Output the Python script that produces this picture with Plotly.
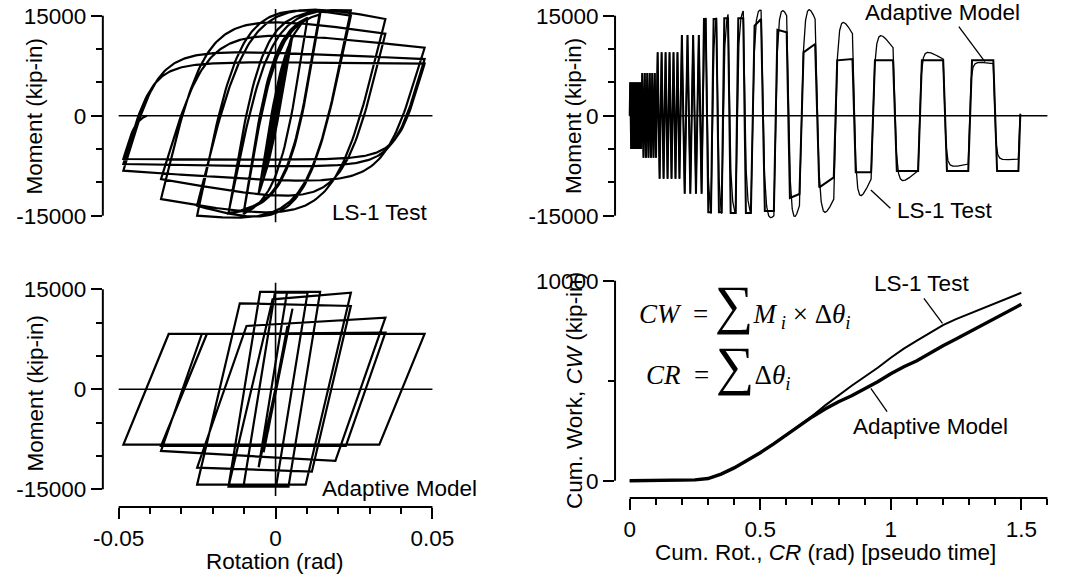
import numpy as np
import plotly.graph_objects as go

W, H = 1066, 581

# ---------------- values ----------------
# loading history: rotation amplitude (rad) of each cycle
amp_pos = [0.0019]*6 + [0.0024]*6 + [0.0038]*6 + [0.0054]*4 + [0.0102]*2 + [0.0142]*2 + [0.0240]*2 + [0.0350]*2 + [0.0475]*3
amp_neg = [0.0019]*6 + [0.0024]*6 + [0.0038]*6 + [0.0054]*4 + [0.0102]*2 + [0.0150]*2 + [0.0250]*2 + [0.0365]*2 + [0.0485]*3
rot_final = -0.041

# LS-1 test: moment at each reversal, peak moment of each half cycle (kip-in), unloading stiffness
test_m_pos = [5000]*6 + [6400]*6 + [9500]*6 + [12100]*4 + [14700, 14700, 15200, 15700, 15800, 15000, 14500, 12300, 10200, 8500, 7800]
test_m_neg = [-5000]*6 + [-6300]*6 + [-9450]*6 + [-11700]*4 + [-14700, -14700, -14700, -14600, -15000, -13500, -12500, -9500, -8250, -7250, -6500]
test_pk_pos = [5000]*6 + [6400]*6 + [9500]*6 + [12100]*4 + [14700, 14700, 15250, 15750, 16250, 16000, 15900, 14000, 12000, 9500, 8000]
test_pk_neg = [-5000]*6 + [-6300]*6 + [-9450]*6 + [-11700]*4 + [-14700, -14700, -14750, -14600, -15500, -15250, -14500, -12000, -9750, -7600, -6600]
test_k = [3.3e6]*12 + [3.1e6]*6 + [2.8e6]*4 + [3.0e6]*2 + [2.8e6]*2 + [2.4e6]*2 + [2.0e6]*2 + [1.6e6]*3
test_m_final = 0

# Adaptive model: plateau start / end moments at each half cycle, elastic stiffness
model_m_pos = [5000]*6 + [6400]*6 + [9500]*6 + [12100]*4 + [14500, 14500, 14600, 14600, 14500, 12500, 10750, 8500, 8300, 8300, 8300]
model_m_neg = [-5000]*6 + [-6300]*6 + [-9450]*6 + [-11700]*4 + [-14500, -14500, -14600, -14600, -14300, -11750, -9250, -8500, -8300, -8300, -8300]
model_y_pos = [None]*22 + [14500, 14500, 14600, 14600, 13500, 12900, 9500, 8300, 8300, 8300, 8300]
model_y_neg = [None]*22 + [-14500, -14500, -14600, -14600, -14300, -12350, -10750, -8500, -8300, -8300, -8300]
model_k = [None]*22 + [2.9e6]*4 + [2.0e6]*2 + [1.35e6]*2 + [1.15e6]*3
model_m_final = 300

# cumulative work vs cumulative rotation
cr_pts = [0, 0.1, 0.2, 0.25, 0.3, 0.35, 0.4, 0.45, 0.5, 0.55, 0.6, 0.65, 0.7, 0.75, 0.8, 0.85, 0.9,
          0.95, 1.0, 1.05, 1.1, 1.15, 1.2, 1.25, 1.3, 1.35, 1.4, 1.45, 1.5]
cw_test = [0, 5, 20, 40, 110, 330, 640, 1000, 1400, 1830, 2300, 2780, 3250, 3780, 4280, 4750, 5200,
           5650, 6150, 6600, 7000, 7400, 7780, 8080, 8350, 8620, 8880, 9130, 9400]
cw_model = [0, 5, 20, 40, 110, 330, 640, 1000, 1400, 1830, 2300, 2750, 3200, 3600, 3950, 4250, 4600,
            4950, 5350, 5700, 6000, 6380, 6750, 7080, 7420, 7780, 8100, 8450, 8820]

# ---------------- build the two moment-rotation paths ----------------
R = 2.6
RMIN = 1.12


def seg_curve(th0, m0, th1, m1, loss, k0):
    d = abs(th1 - th0)
    sg = 1.0 if th1 > th0 else -1.0
    J = sg * (m1 - m0) + loss
    x = k0 * d
    r = max(x / J, RMIN)
    Q = x / ((r ** R - 1) ** (1 / R))
    n = max(8, int(d / 0.0005))
    s = np.linspace(0, d, n)[1:]
    mp = k0 * s / (1 + (k0 * s / Q) ** R) ** (1 / R)
    return th0 + sg * s, m0 + sg * mp - sg * loss * s / d


def best_loss(th0, m0, th1, m1, pk, k0):
    sg = 1.0 if th1 > th0 else -1.0
    if sg * (pk - m1) <= 0:
        return 0.0
    hi = min(k0 * abs(th1 - th0) / RMIN - sg * (m1 - m0), 4.0 * sg * (pk - m1) + 1500)
    best, err = 0.0, 1e18
    for loss in np.linspace(0, max(hi, 0), 160):
        _, mm = seg_curve(th0, m0, th1, m1, loss, k0)
        e = abs(np.max(sg * mm) - sg * pk)
        if e < err:
            best, err = loss, e
    return best


def build_test():
    segs = []
    for i in range(len(amp_pos)):
        segs.append((amp_pos[i], test_m_pos[i], test_pk_pos[i], test_k[i]))
        segs.append((-amp_neg[i], test_m_neg[i], test_pk_neg[i], test_k[i]))
    segs.append((rot_final, test_m_final, test_m_final, test_k[-1]))
    th, m = [0.0], [0.0]
    th0, m0 = 0.0, 0.0
    for th1, m1, pk, k0 in segs:
        loss = best_loss(th0, m0, th1, m1, pk, k0)
        ts, ms = seg_curve(th0, m0, th1, m1, loss, k0)
        th.extend(list(ts))
        m.extend(list(ms))
        th0, m0 = th[-1], m[-1]
    return np.array(th), np.array(m)


def build_model():
    segs = []
    for i in range(len(amp_pos)):
        segs.append((amp_pos[i], model_m_pos[i], model_y_pos[i], model_k[i]))
        segs.append((-amp_neg[i], model_m_neg[i], model_y_neg[i], model_k[i]))
    segs.append((rot_final, model_m_final, None, None))
    th, m = [0.0], [0.0]
    th0, m0 = 0.0, 0.0
    for th1, m1, my, k in segs:
        sg = 1.0 if th1 > th0 else -1.0
        if my is not None:
            th.append(th0 + sg * abs(my - m0) / k)
            m.append(my)
        th.append(th1)
        m.append(m1)
        th0, m0 = th1, m1
    return np.array(th), np.array(m)


th_t, m_t = build_test()
th_m, m_m = build_model()
cr_t = np.concatenate([[0], np.cumsum(np.abs(np.diff(th_t)))])
cr_m = np.concatenate([[0], np.cumsum(np.abs(np.diff(th_m)))])

# ---------------- figure ----------------
def fx(p):
    return p / W


def fy(p):
    return 1 - p / H


FONT = "Liberation Sans, Arial, sans-serif"
tickfont = dict(family=FONT, size=22.5, color="black")

fig = go.Figure()
black = "black"
fig.add_trace(go.Scatter(x=th_t, y=m_t, mode="lines", line=dict(color=black, width=2.2), xaxis="x", yaxis="y", hoverinfo="skip"))
fig.add_trace(go.Scatter(x=th_m, y=m_m, mode="lines", line=dict(color=black, width=2.2), xaxis="x2", yaxis="y2", hoverinfo="skip"))
fig.add_trace(go.Scatter(x=cr_m, y=m_m, mode="lines", line=dict(color=black, width=2.0), xaxis="x3", yaxis="y3", hoverinfo="skip"))
fig.add_trace(go.Scatter(x=cr_t, y=m_t, mode="lines", line=dict(color=black, width=1.3), xaxis="x3", yaxis="y3", hoverinfo="skip"))
fig.add_trace(go.Scatter(x=cr_pts, y=cw_test, mode="lines", line=dict(color=black, width=2.0), xaxis="x4", yaxis="y4", hoverinfo="skip"))
fig.add_trace(go.Scatter(x=cr_pts, y=cw_model, mode="lines", line=dict(color=black, width=3.4), xaxis="x4", yaxis="y4", hoverinfo="skip"))

hidden = dict(showgrid=False, zeroline=False, showline=False, ticks="", showticklabels=False)
tick_common = dict(showgrid=False, zeroline=False, showline=False, ticks="outside", ticklen=11,
                   tickwidth=2, tickcolor=black, tickfont=tickfont)


def minor(vals):
    return dict(tickmode="array", tickvals=vals, ticks="outside", ticklen=6, tickwidth=2, tickcolor=black, showgrid=False)


mom_ticks = dict(tickmode="array", tickvals=[-15000, 0, 15000], ticktext=["-15000", "0", "15000"],
                 minor=minor([-10000, -5000, 5000, 10000]))

xl_range = [(96 - 272.7) / 3210, (440 - 272.7) / 3210]
xr_range = [(620 - 635) / 267.1, (1066 - 635) / 267.1]

fig.update_layout(
    width=W, height=H, margin=dict(l=0, r=0, t=0, b=0),
    paper_bgcolor="white", plot_bgcolor="white", showlegend=False,
    font=dict(family=FONT, size=22.5, color=black),
    xaxis=dict(domain=[fx(96), fx(440)], range=xl_range, anchor="y", **hidden),
    yaxis=dict(domain=[fy(230), fy(0)], range=[-17145, 17355], anchor="x", **tick_common, **mom_ticks),
    xaxis2=dict(domain=[fx(96), fx(440)], range=xl_range, anchor="y2", **tick_common,
                tickmode="array", tickvals=[-0.05, 0, 0.05], ticktext=["-0.05", "0", "0.05"],
                minor=minor([-0.04, -0.03, -0.02, -0.01, 0.01, 0.02, 0.03, 0.04])),
    yaxis2=dict(domain=[fy(507), fy(275)], range=[-17655, 17145], anchor="x2", **tick_common, **mom_ticks),
    xaxis3=dict(domain=[fx(620), 1], range=xr_range, anchor="y3", **hidden),
    yaxis3=dict(domain=[fy(230), fy(0)], range=[-17145, 17355], anchor="x3", **tick_common, **mom_ticks),
    xaxis4=dict(domain=[fx(620), 1], range=xr_range, anchor="y4", **tick_common,
                tickmode="array", tickvals=[0, 0.5, 1, 1.5], ticktext=["0", "0.5", "1", "1.5"],
                minor=minor([0.1, 0.2, 0.3, 0.4, 0.6, 0.7, 0.8, 0.9, 1.1, 1.2, 1.3, 1.4, 1.6])),
    yaxis4=dict(domain=[fy(498), fy(265)], range=[-865, 10785], anchor="x4", **tick_common,
                tickmode="array", tickvals=[0, 10000], ticktext=["0", "10000"], minor=minor([5000])),
)

shapes = []
LW = 2


def line(**kw):
    d = dict(type="line", line=dict(color=black, width=kw.pop("w", LW)), layer="above")
    d.update(kw)
    shapes.append(d)


# axis lines
line(xref="paper", x0=fx(96), x1=fx(96), yref="y", y0=-15000, y1=15000)
line(xref="paper", x0=fx(96), x1=fx(96), yref="y2", y0=-15000, y1=15000)
line(xref="x2", x0=-0.05, x1=0.05, yref="paper", y0=fy(507), y1=fy(507))
line(xref="paper", x0=fx(620), x1=fx(620), yref="y3", y0=-15000, y1=15000)
line(xref="paper", x0=fx(620), x1=fx(620), yref="y4", y0=0, y1=10000)
line(xref="x4", x0=0, x1=1.6, yref="paper", y0=fy(498), y1=fy(498))
# reference lines through the origin
line(xref="x", x0=-0.05, x1=0.05, yref="y", y0=0, y1=0, w=1.6)
line(xref="x", x0=0, x1=0, yref="y", y0=-16000, y1=16000, w=1.6)
line(xref="x2", x0=-0.05, x1=0.05, yref="y2", y0=0, y1=0, w=1.6)
line(xref="x2", x0=0, x1=0, yref="y2", y0=-16000, y1=16000, w=1.6)
line(xref="x3", x0=0, x1=1.6, yref="y3", y0=0, y1=0, w=1.6)
# leader lines
line(xref="paper", yref="paper", x0=fx(971.7), y0=fy(26.7), x1=fx(998.3), y1=fy(61.7), w=1.3)
line(xref="paper", yref="paper", x0=fx(881.7), y0=fy(190), x1=fx(901.7), y1=fy(208.3), w=1.3)
line(xref="paper", yref="paper", x0=fx(936), y0=fy(298.3), x1=fx(955), y1=fy(323.3), w=1.3)
line(xref="paper", yref="paper", x0=fx(881.7), y0=fy(388.3), x1=fx(898.3), y1=fy(411.7), w=1.3)
fig.update_layout(shapes=shapes)

ann = []


def text(t, x, y, angle=0, **kw):
    d = dict(text=t, x=fx(x), y=fy(y), xref="paper", yref="paper", showarrow=False,
             xanchor="center", yanchor="middle", textangle=angle,
             font=dict(family=FONT, size=22.5, color=black))
    d.update(kw)
    ann.append(d)


text("LS-1 Test", 379.5, 213)
text("Adaptive Model", 400, 488)
text("Adaptive Model", 955, 13)
text("LS-1 Test", 956.7, 210)
text("LS-1 Test", 934, 283)
text("Adaptive Model", 942.7, 426.7)
text("Rotation (rad)", 272, 561.7)
text("Cum. Rot., <i>CR</i> (rad) [pseudo time]", 835.5, 552)
text("Moment (kip-in)", 27, 116, angle=-90)
text("Moment (kip-in)", 27, 393, angle=-90)
text("Moment (kip-in)", 578, 116, angle=-90)
text("Cum. Work, <i>CW</i> (kip-in)", 578, 390, angle=-90)

SERIF = "Liberation Serif, Times New Roman, serif"
text("<i>CW</i>  = <span style='font-size:54px'>∑</span><i>M</i><sub> <i>i</i></sub> × Δ<i>θ</i><sub><i>i</i></sub>",
     642.7, 305, xanchor="left", font=dict(family=SERIF, size=27, color=black))
text("<i>CR</i>  = <span style='font-size:54px'>∑</span>Δ<i>θ</i><sub><i>i</i></sub>",
     649.3, 366, xanchor="left", font=dict(family=SERIF, size=27, color=black))
fig.update_layout(annotations=ann)

fig.write_html("out.html")
